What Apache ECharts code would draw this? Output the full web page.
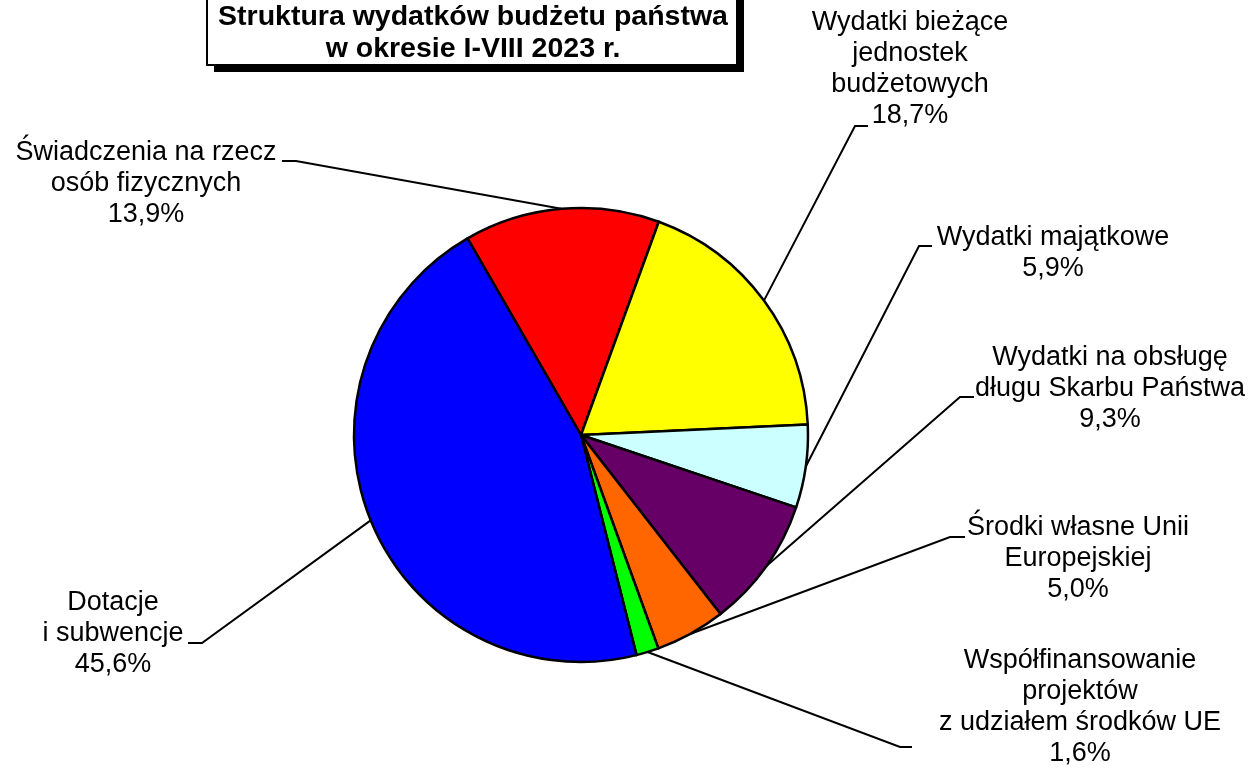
<!DOCTYPE html>
<html>
<head>
<meta charset="utf-8">
<script src="https://cdn.jsdelivr.net/npm/echarts@6/dist/echarts.min.js"></script>
<style>
  html, body { margin: 0; padding: 0; background: #fff; }
  #budgetPie { width: 1256px; height: 772px; }
</style>
</head>
<body>
<div id="budgetPie"></div>
<script>
// slices in clockwise order, starting with the red one
const categories = [
  "Świadczenia na rzecz\nosób fizycznych",
  "Wydatki bieżące\njednostek\nbudżetowych",
  "Wydatki majątkowe",
  "Wydatki na obsługę\ndługu Skarbu Państwa",
  "Środki własne Unii\nEuropejskiej",
  "Współfinansowanie\nprojektów\nz udziałem środków UE",
  "Dotacje\ni subwencje"
];
const shares = [13.9, 18.7, 5.9, 9.3, 5.0, 1.6, 45.6];
const sliceColors = ["#FF0000", "#FFFF00", "#CCFFFF", "#660066", "#FF6600", "#00FF00", "#0000FF"];
const titleLines = ["Struktura wydatków budżetu państwa", "w okresie I-VIII 2023 r."];

// where each label sits (centre x, top y) and where its leader line meets it
const labelPos = [
  { x: 146, y: 137, elbow: [296, 161], end: [282, 161] },
  { x: 910, y: 7, elbow: [855, 126], end: [868, 126] },
  { x: 1053, y: 222, elbow: [919, 246], end: [932, 246] },
  { x: 1110, y: 342, elbow: [960, 397], end: [974, 397] },
  { x: 1078, y: 512, elbow: [950, 537], end: [965, 537] },
  { x: 1080, y: 645, elbow: [900, 747], end: [912, 747] },
  { x: 113, y: 587, elbow: [202, 643], end: [188, 643] }
];

const FONT = "'Liberation Sans', Arial, sans-serif";

let mychart = echarts.init(document.getElementById("budgetPie"), null, { renderer: "canvas" });

const pieData = categories.map((name, i) => ({
  name: name,
  value: shares[i],
  itemStyle: { color: sliceColors[i] }
}));

const option = {
  animation: false,
  backgroundColor: "#ffffff",
  graphic: [
    {
      type: "rect",
      silent: true,
      shape: { x: 214, y: -20, width: 530, height: 92 },
      style: { fill: "#000000" }
    },
    {
      type: "rect",
      silent: true,
      shape: { x: 207, y: -20, width: 530, height: 85 },
      style: { fill: "#ffffff", stroke: "#000000", lineWidth: 2 }
    },
    {
      type: "text",
      silent: true,
      x: 473,
      y: 1,
      style: {
        text: titleLines.join("\n"),
        font: "bold 28.5px " + FONT,
        fill: "#000000",
        align: "center",
        verticalAlign: "top",
        lineHeight: 32
      }
    }
  ],
  series: [
    {
      type: "pie",
      center: [581, 435],
      radius: 227,
      startAngle: 120,
      clockwise: true,
      avoidLabelOverlap: false,
      emphasis: { disabled: true },
      itemStyle: {
        borderColor: "#000000",
        borderWidth: 2.5
      },
      label: {
        show: true,
        position: "outside",
        color: "#000000",
        fontFamily: FONT,
        fontSize: 27,
        lineHeight: 31,
        formatter: function(p) {
          return p.name + "\n" + p.value.toFixed(1).replace(".", ",") + "%";
        }
      },
      labelLine: {
        show: true,
        length: 10,
        length2: 10,
        lineStyle: { color: "#000000", width: 2 }
      },
      labelLayout: function(params) {
        const pos = labelPos[params.dataIndex];
        const start = params.labelLinePoints[0];
        return {
          x: pos.x,
          y: pos.y,
          align: "center",
          verticalAlign: "top",
          labelLinePoints: [start, pos.elbow, pos.end]
        };
      },
      data: pieData
    }
  ]
};
mychart.setOption(option);
</script>
</body>
</html>
